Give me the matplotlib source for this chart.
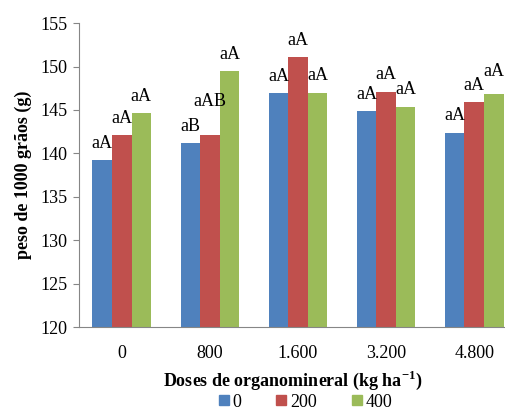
import matplotlib.pyplot as plt
import numpy as np
from matplotlib.lines import Line2D

# doses de organomineral (eixo x) e series da legenda
doses = ["0", "800", "1.600", "3.200", "4.800"]
series = ["0", "200", "400"]
peso_0 = [139.2, 141.2, 146.9, 144.9, 142.4]
peso_200 = [142.1, 142.1, 151.1, 147.1, 145.9]
peso_400 = [144.6, 149.5, 147.0, 145.4, 146.8]
letras_0 = ["aA", "aB", "aA", "aA", "aA"]
letras_200 = ["aA", "aAB", "aA", "aA", "aA"]
letras_400 = ["aA", "aA", "aA", "aA", "aA"]

cores = ["#4F81BD", "#C0504D", "#9BBB59"]
plt.rcParams['font.family'] = ['Liberation Serif', 'DejaVu Serif']
plt.rcParams['mathtext.fontset'] = 'custom'
plt.rcParams['mathtext.rm'] = 'Liberation Serif'
plt.rcParams['mathtext.bf'] = 'Liberation Serif:bold'

fig = plt.figure(figsize=(5.06, 4.13), dpi=100)
ax = fig.add_axes([0.156, 0.208, 0.844, 0.736])

x = np.arange(len(doses))
w = 0.222
valores = [peso_0, peso_200, peso_400]
letras = [letras_0, letras_200, letras_400]
# deslocamento extra (pontos) de alguns rotulos
extra = {(1, 1): 12, (2, 4): 4}
for k in range(3):
    xs = x + (k - 1) * w
    ax.bar(xs, np.array(valores[k]) - 120, width=w, bottom=120, color=cores[k])
    for i in range(len(doses)):
        ax.annotate(letras[k][i], (xs[i], valores[k][i]),
                    xytext=(0, 6 + extra.get((k, i), 0)), textcoords='offset points',
                    ha='center', va='bottom', fontsize=13)

ax.set_ylim(120, 155)
ax.set_yticks(range(120, 156, 5))
ax.set_xlim(-0.486, 4.361)
ax.set_xticks(x)
ax.set_xticklabels(doses)
ax.tick_params(axis='x', length=0, labelsize=13, pad=13)
ax.tick_params(axis='y', length=4, color='#868686', labelsize=13, pad=4)
for s in ['top', 'right']:
    ax.spines[s].set_visible(False)
for s in ['left', 'bottom']:
    ax.spines[s].set_color('#868686')

ax.set_ylabel("peso de 1000 grãos (g)", fontsize=13, fontweight='bold', labelpad=6)
ax.set_xlabel("Doses de organomineral (kg ha$^{\\mathbf{-1}}$)", fontsize=13,
              fontweight='bold', labelpad=5)

handles = [Line2D([], [], marker='s', linestyle='None', color=c, markersize=7) for c in cores]
fig.legend(handles, series, loc='center', bbox_to_anchor=(0.602, 0.026), ncol=3,
           frameon=False, fontsize=13, handletextpad=0.1, columnspacing=1.8,
           handlelength=0.8)

fig.savefig("out.png", dpi=100)
